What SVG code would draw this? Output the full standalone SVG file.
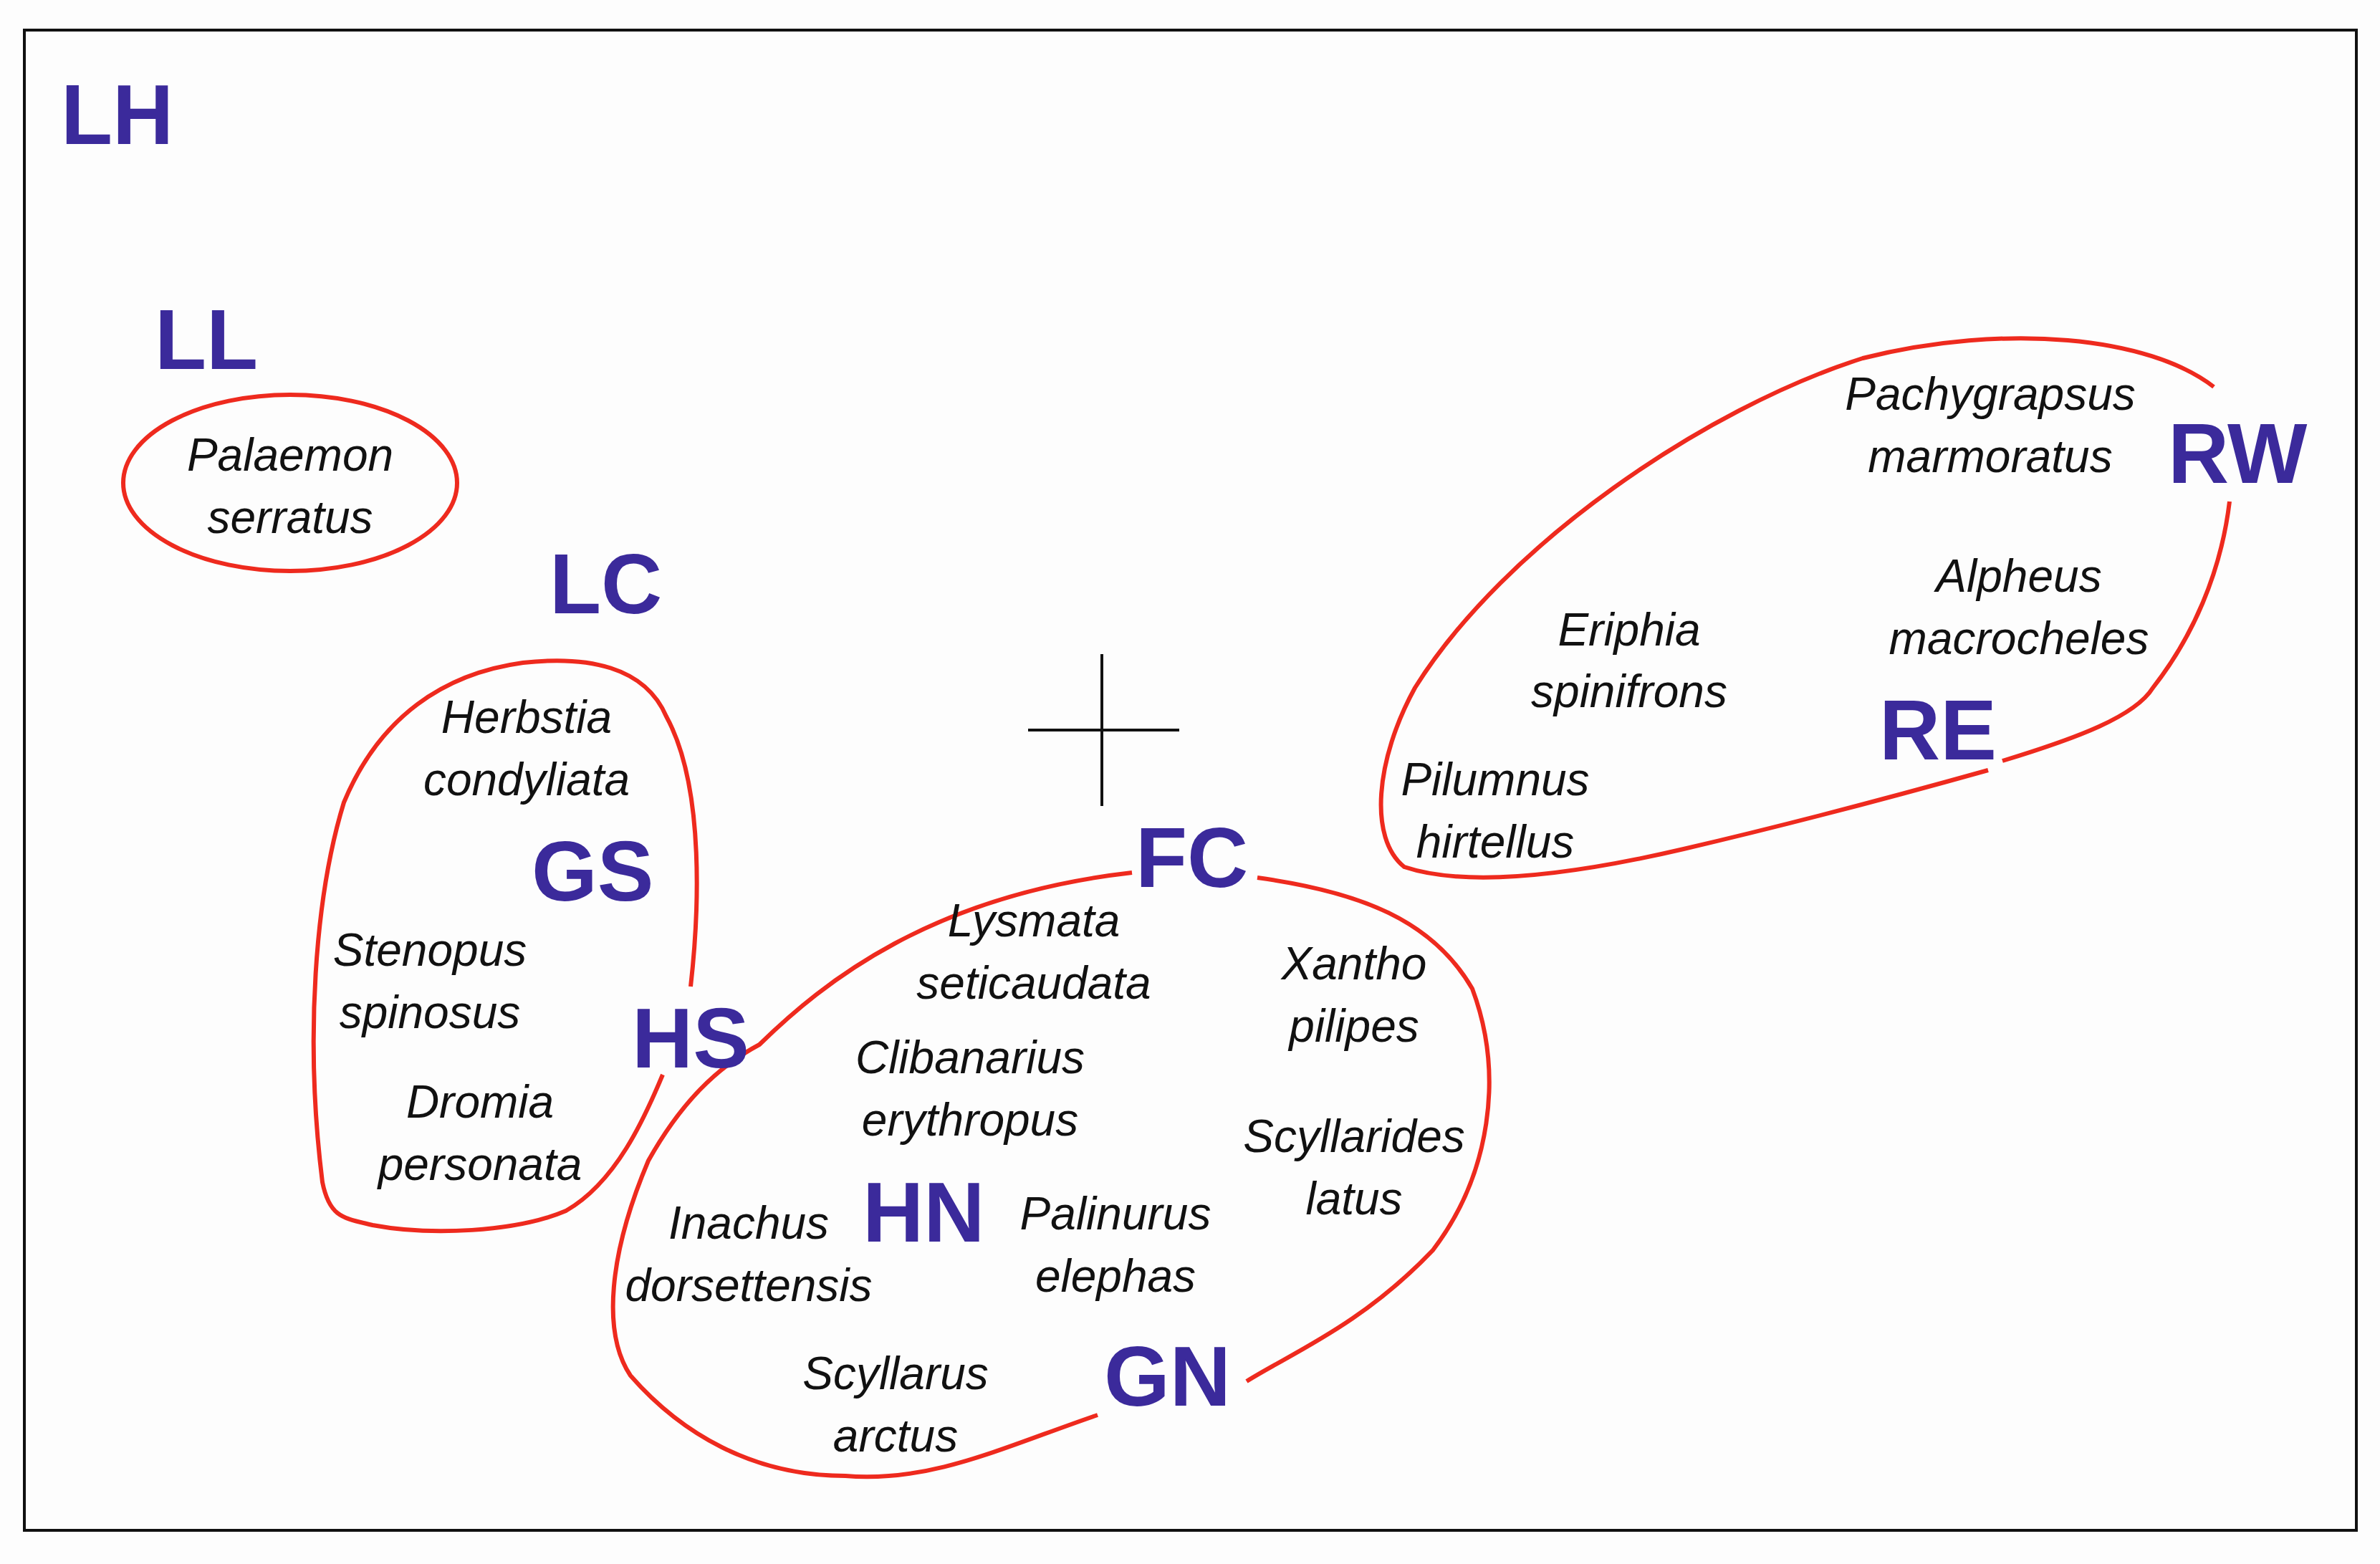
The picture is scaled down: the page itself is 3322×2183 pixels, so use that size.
<svg xmlns="http://www.w3.org/2000/svg" width="3322" height="2183" viewBox="0 0 3322 2183">
<style>
.sp{font-family:"Liberation Sans",Arial,sans-serif;font-style:italic;font-size:64px;fill:#111;text-anchor:middle}
.lb{font-family:"Liberation Sans",Arial,sans-serif;font-weight:bold;font-size:118px;fill:#3b2a9b}
.c{fill:none;stroke:#ee2a1e;stroke-width:6}
</style>
<rect width="3322" height="2183" fill="#fdfdfd"/>
<rect x="34" y="42" width="3255" height="2094" fill="none" stroke="#111" stroke-width="4"/>
<g id="connectors">
<ellipse class="c" cx="405" cy="674" rx="233" ry="123"/>
<path class="c" d="M964 1377 C975 1280,985 1100,930 1000 C900 930,820 915,730 925 C620 940,530 1000,480 1120 C440 1250,425 1450,450 1650 C460 1700,480 1700,520 1710 C600 1725,720 1720,790 1690 C860 1650,900 1560,925 1500"/>
<path class="c" d="M1755 1225 C1900 1245,2000 1285,2055 1380 C2100 1500,2080 1640,2000 1745 C1900 1850,1800 1890,1740 1928"/>
<path class="c" d="M1532 1975 C1400 2020,1300 2070,1180 2060 C1050 2060,950 2000,880 1920 C840 1860,850 1750,905 1620 C950 1540,1000 1490,1060 1458 C1150 1370,1300 1250,1580 1218"/>
<path class="c" d="M3090 540 C3000 470,2800 450,2600 500 C2380 570,2100 760,1975 960 C1920 1060,1910 1170,1960 1210 C2050 1240,2200 1220,2350 1185 C2500 1150,2650 1110,2775 1075"/>
<path class="c" d="M2795 1062 C2900 1030,2980 1000,3005 960 C3060 890,3100 800,3112 700"/>
<path d="M1538 913V1125M1435 1019H1646" stroke="#111" stroke-width="4" fill="none"/>
</g>
<g id="LH"><text class="lb" x="85" y="201">LH</text></g>
<g id="LL"><text class="lb" x="216" y="515">LL</text></g>
<g id="LC"><text class="lb" x="767" y="856">LC</text></g>
<g id="GS"><text class="lb" x="742" y="1257">GS</text></g>
<g id="HS"><text class="lb" x="882" y="1490">HS</text></g>
<g id="FC"><text class="lb" x="1585" y="1238">FC</text></g>
<g id="HN"><text class="lb" x="1204" y="1733">HN</text></g>
<g id="GN"><text class="lb" x="1541" y="1962">GN</text></g>
<g id="RW"><text class="lb" x="3026" y="674">RW</text></g>
<g id="RE"><text class="lb" x="2623" y="1060">RE</text></g>
<g id="s1"><text class="sp" x="405" y="657">Palaemon</text><text class="sp" x="405" y="744">serratus</text></g>
<g id="s2"><text class="sp" x="735" y="1023">Herbstia</text><text class="sp" x="735" y="1110">condyliata</text></g>
<g id="s3"><text class="sp" x="600" y="1348">Stenopus</text><text class="sp" x="600" y="1435">spinosus</text></g>
<g id="s4"><text class="sp" x="670" y="1560">Dromia</text><text class="sp" x="670" y="1647">personata</text></g>
<g id="s5"><text class="sp" x="1443" y="1307">Lysmata</text><text class="sp" x="1443" y="1394">seticaudata</text></g>
<g id="s6"><text class="sp" x="1890" y="1367">Xantho</text><text class="sp" x="1890" y="1454">pilipes</text></g>
<g id="s7"><text class="sp" x="1354" y="1498">Clibanarius</text><text class="sp" x="1354" y="1585">erythropus</text></g>
<g id="s8"><text class="sp" x="1890" y="1608">Scyllarides</text><text class="sp" x="1890" y="1695">latus</text></g>
<g id="s9"><text class="sp" x="1045" y="1729">Inachus</text><text class="sp" x="1045" y="1816">dorsettensis</text></g>
<g id="s10"><text class="sp" x="1557" y="1716">Palinurus</text><text class="sp" x="1557" y="1803">elephas</text></g>
<g id="s11"><text class="sp" x="1250" y="1939">Scyllarus</text><text class="sp" x="1250" y="2026">arctus</text></g>
<g id="s12"><text class="sp" x="2778" y="572">Pachygrapsus</text><text class="sp" x="2778" y="659">marmoratus</text></g>
<g id="s13"><text class="sp" x="2818" y="826">Alpheus</text><text class="sp" x="2818" y="913">macrocheles</text></g>
<g id="s14"><text class="sp" x="2274" y="901">Eriphia</text><text class="sp" x="2274" y="987">spinifrons</text></g>
<g id="s15"><text class="sp" x="2087" y="1110">Pilumnus</text><text class="sp" x="2087" y="1197">hirtellus</text></g>
</svg>
